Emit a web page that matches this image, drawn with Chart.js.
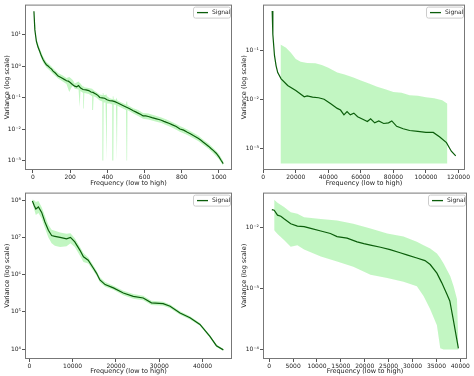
<!DOCTYPE html>
<html lang="en">
<head>
<meta charset="UTF-8">
<title>Variance spectra</title>
<script src="https://cdn.jsdelivr.net/npm/chart.js"></script>
<style>
  body { margin: 0; background: #fff; }
  #wrap { position: relative; width: 474px; height: 376px; }
  #wrap canvas { position: absolute; }
</style>
</head>
<body>
<div id="wrap">
  <canvas id="c1" width="237" height="188" style="left:0;top:0"></canvas>
  <canvas id="c2" width="237" height="188" style="left:237px;top:0"></canvas>
  <canvas id="c3" width="237" height="188" style="left:0;top:188px"></canvas>
  <canvas id="c4" width="237" height="188" style="left:237px;top:188px"></canvas>
</div>
<script>
// ---- top left ----
const tlFreq = [5, 10, 18, 27, 36, 45, 54, 63, 72, 81, 90, 100, 108, 120, 135, 148, 160, 170, 180, 190, 200, 212, 224, 235, 245, 256, 269, 285, 300, 312, 323, 332, 340, 350, 359, 372, 385, 398, 413, 426, 440, 453, 467, 483, 500, 520, 539, 552, 565, 580, 592, 606, 620, 640, 664, 677, 690, 704, 718, 734, 750, 770, 790, 810, 830, 846, 862, 876, 890, 903, 916, 930, 945, 957, 969, 985, 1000, 1012, 1023];
const tlSignal = [55, 14, 6.2, 4.0, 2.95, 2.1, 1.6, 1.3, 1.1, 1.0, 0.89, 0.8, 0.69, 0.6, 0.48, 0.44, 0.40, 0.37, 0.34, 0.33, 0.30, 0.26, 0.23, 0.22, 0.24, 0.2, 0.18, 0.175, 0.166, 0.15, 0.145, 0.135, 0.126, 0.115, 0.10, 0.098, 0.095, 0.085, 0.079, 0.078, 0.074, 0.068, 0.062, 0.056, 0.050, 0.044, 0.038, 0.035, 0.032, 0.029, 0.026, 0.026, 0.025, 0.023, 0.021, 0.020, 0.019, 0.0175, 0.0162, 0.015, 0.0135, 0.012, 0.010, 0.0092, 0.0079, 0.0071, 0.0062, 0.0056, 0.005, 0.0044, 0.0038, 0.0033, 0.0028, 0.0024, 0.0021, 0.0017, 0.0013, 0.001, 0.0008];
const tlBandFreq = [5, 18, 36, 54, 72, 90, 108, 135, 160, 180, 195, 205, 215, 224, 245, 249, 251, 255, 269, 271, 273, 276, 300, 318, 321, 323, 326, 340, 359, 373, 375, 378, 380, 390, 393, 396, 398, 413, 426, 429, 432, 434, 446, 448, 451, 454, 467, 500, 503, 506, 508, 539, 565, 592, 620, 664, 690, 718, 750, 790, 830, 862, 890, 916, 945, 969, 1000, 1023];
const tlUpper = [60, 7.5, 3.6, 2.0, 1.35, 1.1, 0.85, 0.6, 0.5, 0.42, 0.45, 0.40, 0.35, 0.28, 0.32, 0.30, 0.30, 0.28, 0.22, 0.24, 0.24, 0.21, 0.2, 0.19, 0.18, 0.18, 0.17, 0.15, 0.125, 0.12, 0.14, 0.14, 0.12, 0.12, 0.13, 0.13, 0.11, 0.095, 0.09, 0.11, 0.11, 0.088, 0.085, 0.1, 0.1, 0.08, 0.074, 0.06, 0.075, 0.075, 0.058, 0.046, 0.04, 0.032, 0.031, 0.026, 0.023, 0.02, 0.0165, 0.0125, 0.0097, 0.0076, 0.0061, 0.0046, 0.0034, 0.0025, 0.0016, 0.00095];
const tlLower = [50, 5.2, 2.4, 1.3, 0.9, 0.72, 0.56, 0.4, 0.32, 0.27, 0.15, 0.2, 0.24, 0.19, 0.18, 0.05, 0.05, 0.16, 0.14, 0.045, 0.045, 0.14, 0.13, 0.11, 0.04, 0.04, 0.11, 0.1, 0.08, 0.075, 0.001, 0.001, 0.07, 0.07, 0.001, 0.001, 0.065, 0.064, 0.06, 0.001, 0.001, 0.06, 0.058, 0.001, 0.001, 0.055, 0.05, 0.04, 0.001, 0.001, 0.04, 0.031, 0.026, 0.021, 0.02, 0.017, 0.0155, 0.0132, 0.011, 0.0082, 0.0064, 0.0051, 0.0041, 0.0031, 0.0023, 0.0017, 0.0011, 0.00068];
const tlXTicks = [0, 200, 400, 600, 800, 1000];
const tlYTicks = [1e-3, 1e-2, 1e-1, 1, 10];

// ---- top right ----
const trFreq = [5500, 5900, 6900, 7900, 8900, 11000, 15000, 20000, 25200, 27000, 30300, 34000, 37400, 41500, 45500, 47500, 49600, 51500, 53500, 55700, 58000, 61800, 64000, 66000, 68500, 71000, 74000, 77000, 79000, 82000, 86000, 90000, 95000, 100000, 104500, 108500, 112600, 115600, 118300];
const trSignal = [0.63, 0.21, 0.078, 0.048, 0.035, 0.026, 0.019, 0.0151, 0.0112, 0.0117, 0.011, 0.0107, 0.010, 0.0081, 0.0065, 0.006, 0.0048, 0.0056, 0.0048, 0.0052, 0.0044, 0.0038, 0.0035, 0.004, 0.0033, 0.0036, 0.0032, 0.0033, 0.0036, 0.0028, 0.0025, 0.0023, 0.0022, 0.0021, 0.0021, 0.0017, 0.0013, 0.00087, 0.0007];
const trBandFreq = [10600, 14000, 17000, 20000, 23000, 27000, 32000, 36000, 40000, 45500, 50000, 55000, 60000, 65000, 70000, 75000, 80000, 85000, 90000, 95000, 100000, 105000, 110000, 113200];
const trUpper = [0.13, 0.112, 0.089, 0.066, 0.058, 0.055, 0.054, 0.05, 0.044, 0.035, 0.032, 0.028, 0.024, 0.021, 0.018, 0.016, 0.014, 0.0135, 0.012, 0.0118, 0.011, 0.0105, 0.0095, 0.0081];
const trLower = [0.00049, 0.00049, 0.00049, 0.00049, 0.00049, 0.00049, 0.00049, 0.00049, 0.00049, 0.00049, 0.00049, 0.00049, 0.00049, 0.00049, 0.00049, 0.00049, 0.00049, 0.00049, 0.00049, 0.00049, 0.00049, 0.00049, 0.00049, 0.00049];
const trXTicks = [0, 20000, 40000, 60000, 80000, 100000, 120000];
const trYTicks = [1e-3, 1e-2, 1e-1];

// ---- bottom left ----
const blFreq = [700, 1150, 1500, 2100, 2850, 3600, 4400, 5150, 5900, 7100, 8600, 9500, 10500, 11700, 12500, 13600, 14800, 15500, 16300, 17500, 19400, 21700, 24000, 26300, 28200, 30900, 32500, 34800, 37100, 39400, 41700, 43200, 44800];
const blSignal = [9.5e7, 7.1e7, 5.8e7, 6.6e7, 4.7e7, 2.6e7, 1.55e7, 1.12e7, 1.07e7, 1.0e7, 9.1e6, 1.0e7, 7.6e6, 4.5e6, 3.0e6, 2.45e6, 1.48e6, 1.1e6, 7.2e5, 5.4e5, 4.4e5, 3.2e5, 2.6e5, 2.35e5, 1.74e5, 1.66e5, 1.41e5, 9.3e4, 6.9e4, 4.6e4, 2.2e4, 1.23e4, 9.5e3];
const blUpper = [1.05e8, 1.0e8, 9e7, 9.5e7, 6.5e7, 3.8e7, 2.2e7, 1.6e7, 1.5e7, 1.35e7, 1.25e7, 1.3e7, 9.5e6, 5.5e6, 3.8e6, 2.9e6, 1.75e6, 1.3e6, 8.5e5, 6.3e5, 5.0e5, 3.7e5, 3.0e5, 2.7e5, 1.98e5, 1.88e5, 1.58e5, 1.03e5, 7.6e4, 5.0e4, 2.4e4, 1.33e4, 1.0e4];
const blLower = [8.5e7, 5.5e7, 4e7, 4.5e7, 3.2e7, 1.8e7, 1.0e7, 7e6, 6e6, 5.5e6, 5.8e6, 7e6, 5.5e6, 3.2e6, 2.2e6, 2.0e6, 1.25e6, 9.5e5, 6.2e5, 4.7e5, 3.9e5, 2.8e5, 2.25e5, 2.05e5, 1.53e5, 1.46e5, 1.25e5, 8.4e4, 6.2e4, 4.2e4, 2.0e4, 1.13e4, 9.0e3];
const blXTicks = [0, 10000, 20000, 30000, 40000];
const blYTicks = [1e4, 1e5, 1e6, 1e7, 1e8];

// ---- bottom right ----
const brFreq = [550, 1040, 1740, 2430, 3100, 4500, 5900, 7300, 8700, 10800, 12800, 14200, 16300, 18400, 19800, 21200, 23300, 25300, 27400, 28800, 30900, 32600, 33700, 35100, 36100, 37200, 37800, 38500, 39600];
const brSignal = [0.0200, 0.0195, 0.0162, 0.0155, 0.0141, 0.0117, 0.0107, 0.0105, 0.0098, 0.0089, 0.0081, 0.0072, 0.0068, 0.0059, 0.0055, 0.0052, 0.0048, 0.0044, 0.0039, 0.0036, 0.0032, 0.0029, 0.0025, 0.0018, 0.00126, 0.00081, 0.00063, 0.00032, 0.000105];
const brBandFreq = [1040, 1740, 3100, 4500, 5900, 7300, 10800, 14200, 17600, 21200, 24700, 28100, 30900, 32300, 33700, 35100, 35800, 36500, 37900, 38600, 39300, 39600];
const brUpper = [0.029, 0.026, 0.022, 0.018, 0.017, 0.015, 0.014, 0.0132, 0.0117, 0.0098, 0.0081, 0.0072, 0.0059, 0.0052, 0.0046, 0.0038, 0.0032, 0.0026, 0.0016, 0.0011, 0.00068, 0.000126];
const brLower = [0.0091, 0.0079, 0.0063, 0.0049, 0.0052, 0.0044, 0.0034, 0.0028, 0.0023, 0.0017, 0.0015, 0.0013, 0.0011, 0.00076, 0.00046, 0.00025, 0.000105, 0.0001, 0.0001, 0.0001, 0.0001, 0.0001];
const brXTicks = [0, 5000, 10000, 15000, 20000, 25000, 30000, 35000, 40000];
const brYTicks = [1e-4, 1e-3, 1e-2];

const FONT = 'DejaVu Sans';
const SUP = { '-': '⁻', '0': '⁰', '1': '¹', '2': '²', '3': '³', '4': '⁴', '5': '⁵', '6': '⁶', '7': '⁷', '8': '⁸', '9': '⁹' };

function pts(xs, ys) {
    return xs.map((x, i) => ({ x: x, y: ys[i] }));
}

function powLabel(v) {
    var e = String(Math.round(Math.log10(v)));
    return '10' + e.split('').map(c => SUP[c]).join('');
}

// frame around the plot area plus a matplotlib-like legend
const framePlugin = {
    id: 'frame',
    afterDraw(chart) {
        const a = chart.chartArea, ctx = chart.ctx;
        ctx.save();
        ctx.strokeStyle = '#777';
        ctx.lineWidth = 1;
        ctx.strokeRect(a.left + 0.5, a.top + 0.5, a.width - 1, a.height - 1);
        // legend
        const w = 37, h = 11, x = a.right - w - 2, y = a.top + 2;
        ctx.fillStyle = 'rgba(255,255,255,0.8)';
        ctx.strokeStyle = '#ccc';
        ctx.beginPath();
        ctx.roundRect(x + 0.5, y + 0.5, w, h, 2);
        ctx.fill();
        ctx.stroke();
        ctx.strokeStyle = '#0b5e0b';
        ctx.lineWidth = 1.3;
        ctx.beginPath();
        ctx.moveTo(x + 4, y + h / 2 + 0.5);
        ctx.lineTo(x + 15, y + h / 2 + 0.5);
        ctx.stroke();
        ctx.fillStyle = '#222';
        ctx.font = '6px "' + FONT + '"';
        ctx.textBaseline = 'middle';
        ctx.fillText('Signal', x + 19, y + h / 2 + 0.5);
        ctx.restore();
    }
};

function makeChart(id, opt) {
    new Chart(document.getElementById(id), {
        type: 'line',
        data: {
            datasets: [
                // chart.js paints index 0 last, so the signal line sits on top of the band
                {
                    label: 'Signal',
                    data: pts(opt.freq, opt.signal),
                    borderColor: '#0b5e0b', borderWidth: 1.2,
                    pointRadius: 0, fill: false
                },
                {
                    data: pts(opt.bandFreq, opt.lower),
                    borderWidth: 0, pointRadius: 0, fill: false
                },
                {
                    data: pts(opt.bandFreq, opt.upper),
                    borderWidth: 0, pointRadius: 0, fill: '-1',
                    backgroundColor: 'rgba(144,238,144,0.55)'
                }
            ]
        },
        options: {
            responsive: false,
            animation: false,
            devicePixelRatio: 1,
            layout: { padding: { left: 0, right: opt.padRight, top: 3, bottom: 0 } },
            plugins: { legend: { display: false }, tooltip: { enabled: false } },
            scales: {
                x: {
                    type: 'linear',
                    min: opt.xMin, max: opt.xMax,
                    afterBuildTicks: s => { s.ticks = opt.xTicks.map(v => ({ value: v })); },
                    afterFit: s => { s.height = opt.xHeight; },
                    border: { display: false },
                    grid: { drawOnChartArea: false, drawTicks: true, tickLength: 3, color: '#555' },
                    ticks: { font: { family: FONT, size: 6 }, color: '#222', padding: 1, maxRotation: 0, autoSkip: false, callback: v => String(v) },
                    title: { display: true, text: 'Frequency (low to high)', font: { family: FONT, size: 6.5 }, color: '#222', padding: { top: 0, bottom: 1 } }
                },
                y: {
                    type: 'logarithmic',
                    min: opt.yMin, max: opt.yMax,
                    afterBuildTicks: s => { s.ticks = opt.yTicks.map(v => ({ value: v, major: true })); },
                    afterFit: s => { s.width = opt.left; },
                    border: { display: false },
                    grid: { drawOnChartArea: false, drawTicks: true, tickLength: 3, color: '#555' },
                    ticks: { font: { family: FONT, size: 6 }, color: '#222', padding: 1, callback: v => powLabel(v) },
                    title: { display: true, text: 'Variance (log scale)', font: { family: FONT, size: 6.5 }, color: '#222', padding: { top: 3, bottom: 0 } }
                }
            }
        },
        plugins: [framePlugin]
    });
}

makeChart('c1', {
    freq: tlFreq, signal: tlSignal, bandFreq: tlBandFreq, upper: tlUpper, lower: tlLower,
    xTicks: tlXTicks, yTicks: tlYTicks, xMin: -43, xMax: 1070, yMin: 5e-4, yMax: 89,
    left: 25, padRight: 5, xHeight: 18
});
makeChart('c2', {
    freq: trFreq, signal: trSignal, bandFreq: trBandFreq, upper: trUpper, lower: trLower,
    xTicks: trXTicks, yTicks: trYTicks, xMin: -150, xMax: 124000, yMin: 3.6e-4, yMax: 0.85,
    left: 26, padRight: 9, xHeight: 18
});
makeChart('c3', {
    freq: blFreq, signal: blSignal, bandFreq: blFreq, upper: blUpper, lower: blLower,
    xTicks: blXTicks, yTicks: blYTicks, xMin: -1000, xMax: 46800, yMin: 5.4e3, yMax: 1.6e8,
    left: 25, padRight: 5, xHeight: 17
});
makeChart('c4', {
    freq: brFreq, signal: brSignal, bandFreq: brBandFreq, upper: brUpper, lower: brLower,
    xTicks: brXTicks, yTicks: brYTicks, xMin: -1300, xMax: 41400, yMin: 7.1e-5, yMax: 0.038,
    left: 26, padRight: 7, xHeight: 17
});
</script>
</body>
</html>
